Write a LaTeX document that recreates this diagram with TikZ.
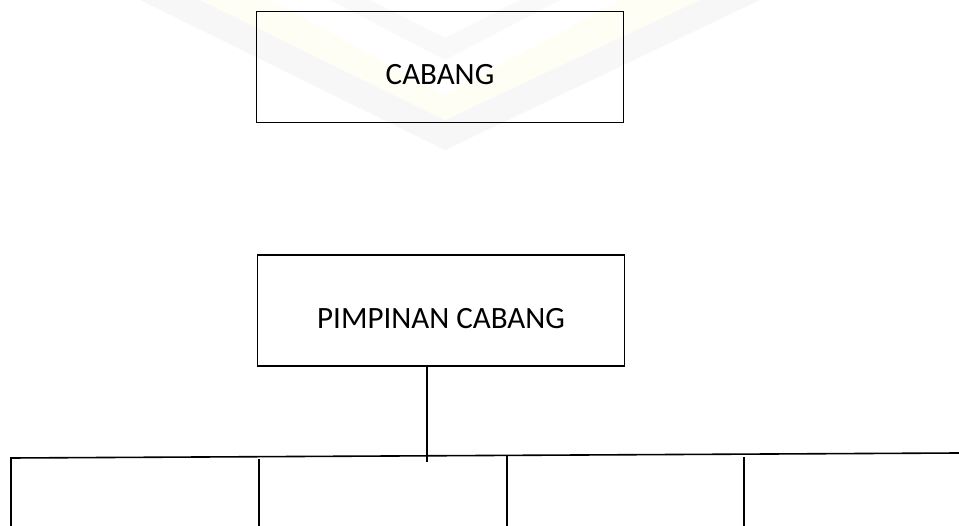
\documentclass[tikz,border=0pt]{standalone}
\usepackage{fontspec}
\setmainfont{Carlito}
\begin{document}
\begin{tikzpicture}[x=1pt,y=-1pt,
  box/.style={draw=black,line width=1.6pt,minimum width=367pt,minimum height=111pt,
              inner sep=0pt,text height=36pt,text depth=0pt,
              font=\fontsize{31}{36}\selectfont,text=black},
  wire/.style={draw=black,line width=1.6pt}]
\useasboundingbox (0,0) rectangle (959,526);
\fill[white] (0,0) rectangle (959,526);
% faint emblem in the background
\fill[gray!6] (140,0) -- (445,150) -- (760,0) -- (700,0) -- (445,120) -- (200,0) -- cycle;
\fill[yellow!4] (200,0) -- (445,120) -- (700,0) -- (620,0) -- (445,95) -- (270,0) -- cycle;
\fill[gray!5] (330,0) -- (445,60) -- (560,0) -- (520,0) -- (445,38) -- (370,0) -- cycle;
% organisation chart
\node[box] (cabang) at (440,67) {CABANG};
\node[box] (pimpinan) at (441,310.5) {PIMPINAN CABANG};
\coordinate (busL) at (11,458);
\coordinate (busR) at (959,453);
\draw[wire] (busL) -- (busR);
\coordinate (stub) at (427,462);
\draw[wire] (pimpinan.south -| stub) -- (stub);
\coordinate (c1) at (11,526);
\coordinate (c2) at (259,526);
\coordinate (c3) at (507,526);
\coordinate (c4) at (744,526);
\draw[wire] (11,457.5) -- (c1);
\draw[wire] (259,459) -- (c2);
\draw[wire] (507,455) -- (c3);
\draw[wire] (744,457) -- (c4);
\end{tikzpicture}
\end{document}
